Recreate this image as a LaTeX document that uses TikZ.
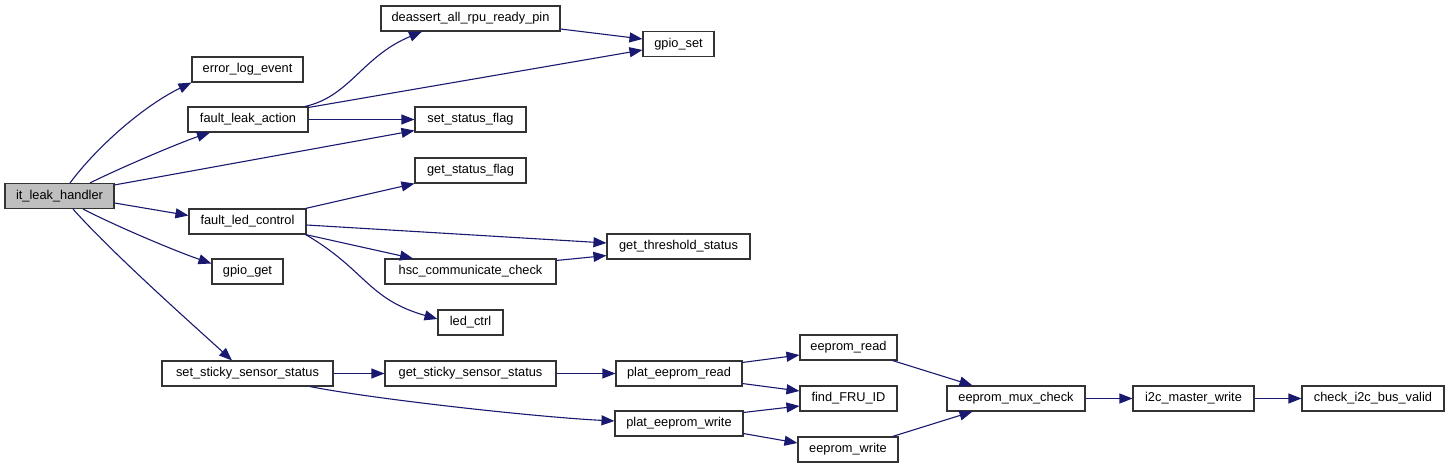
\documentclass[tikz,border=0pt]{standalone}
\usepackage{fontspec}
\setmainfont{Liberation Sans}
\usetikzlibrary{arrows.meta,calc}
\definecolor{edgec}{HTML}{191970}
\definecolor{boxc}{HTML}{333333}
\definecolor{rootfill}{HTML}{BFBFBF}
\begin{document}
\begin{tikzpicture}[x=1pt,y=-1pt,
  fn/.style={draw=boxc, line width=1.1pt, fill=white, minimum height=25pt, inner sep=0pt,
    font=\fontsize{12.8}{15}\selectfont, text=black},
  root/.style={fn, fill=rootfill},
  call/.style={draw=edgec, line width=1.1pt, -{Triangle[length=13pt,width=10pt]}}]
\useasboundingbox (0,0) rectangle (1451,468);
% nodes
\node[root, minimum width=109pt] (it) at (59.5,196) {it\_leak\_handler};
\node[fn, minimum width=111pt] (err) at (247.5,69.5) {error\_log\_event};
\node[fn, minimum width=120pt] (fla) at (248,119.5) {fault\_leak\_action};
\node[fn, minimum width=179pt] (dea) at (470.5,18.5) {deassert\_all\_rpu\_ready\_pin};
\node[fn, minimum width=71pt] (gset) at (678.5,44) {gpio\_set};
\node[fn, minimum width=111pt] (ssf) at (470.5,119.5) {set\_status\_flag};
\node[fn, minimum width=111pt] (gsf) at (470.5,170.5) {get\_status\_flag};
\node[fn, minimum width=117pt] (flc) at (247.5,221.5) {fault\_led\_control};
\node[fn, minimum width=143pt] (gts) at (678.5,246.5) {get\_threshold\_status};
\node[fn, minimum width=171pt] (hsc) at (470.5,271.5) {hsc\_communicate\_check};
\node[fn, minimum width=65pt] (led) at (470.5,322.5) {led\_ctrl};
\node[fn, minimum width=71pt] (gget) at (247.5,271.5) {gpio\_get};
\node[fn, minimum width=171pt] (sss) at (247.5,373.5) {set\_sticky\_sensor\_status};
\node[fn, minimum width=171pt] (gss) at (470.5,373.5) {get\_sticky\_sensor\_status};
\node[fn, minimum width=126pt] (per) at (679,373.5) {plat\_eeprom\_read};
\node[fn, minimum width=128pt] (pew) at (679,423.5) {plat\_eeprom\_write};
\node[fn, minimum width=97pt] (er) at (848.5,347.5) {eeprom\_read};
\node[fn, minimum width=97pt] (fru) at (848.5,398.5) {find\_FRU\_ID};
\node[fn, minimum width=100pt] (ew) at (848,449.5) {eeprom\_write};
\node[fn, minimum width=138pt] (mux) at (1016,398.5) {eeprom\_mux\_check};
\node[fn, minimum width=121pt] (i2c) at (1193.5,398.5) {i2c\_master\_write};
\node[fn, minimum width=142pt] (chk) at (1373,398.5) {check\_i2c\_bus\_valid};
% edges
\draw[call] ($(it.north)+(10.5,0)$) .. controls +(30,-40) and +(-45,22) .. (err.south west);
\draw[call] ($(it.north)+(30.5,0)$) .. controls +(30,-15) and +(-30,10) .. ($(fla.south)+(-38,0)$);
\draw[call] ($(it.north east)+(0,2)$) -- ($(ssf.south west)+(0,-2)$);
\draw[call] ($(it.east)+(0,7)$) -- ($(flc.west)+(0,-6)$);
\draw[call] ($(it.south)+(23.5,0)$) .. controls +(35,18) and +(-35,-12) .. ($(gget.west)+(0,-8)$);
\draw[call] ($(it.south)+(13.5,0)$) .. controls +(40,45) and +(-35,-32) .. ($(sss.north)+(-15.5,0)$);
\draw[call] ($(fla.north)+(57,0)$) .. controls +(45,-10) and +(-60,25) .. ($(dea.south)+(-48.5,0)$);
\draw[call] ($(fla.north east)+(0,1)$) -- ($(gset.west)+(0,6)$);
\draw[call] (fla.east) -- (ssf.west);
\draw[call] ($(dea.east)+(0,10.5)$) -- ($(gset.west)+(0,-5)$);
\draw[call] ($(flc.north east)+(-1,0)$) -- (gsf.south west);
\draw[call] ($(flc.east)+(0,3.5)$) -- ($(gts.west)+(0,-3.5)$);
\draw[call] ($(flc.south east)+(-1,0)$) -- ($(hsc.north)+(-57.5,0)$);
\draw[call] ($(flc.south east)+(-1,0)$) .. controls +(60,35) and +(-70,-20) .. ($(led.west)+(0,-3.5)$);
\draw[call] ($(hsc.north east)+(0,2)$) -- ($(gts.south west)+(0,-4)$);
\draw[call] (sss.east) -- (gss.west);
\draw[call] ($(sss.south)+(62.5,0)$) .. controls +(60,12) and +(-80,-4) .. ($(pew.west)+(0,-2.5)$);
\draw[call] (gss.east) -- (per.west);
\draw[call] ($(per.north east)+(0,2)$) -- ($(er.west)+(0,7.5)$);
\draw[call] ($(per.south east)+(0,-3)$) -- ($(fru.west)+(0,-7.5)$);
\draw[call] ($(pew.north east)+(0,2)$) -- ($(fru.west)+(0,7.5)$);
\draw[call] ($(pew.south east)+(0,-3)$) -- ($(ew.west)+(0,-6.5)$);
\draw[call] ($(er.south east)+(-5,0)$) -- ($(mux.north west)+(26,0)$);
\draw[call] ($(ew.north east)+(-6,0)$) -- ($(mux.south west)+(26,0)$);
\draw[call] (mux.east) -- (i2c.west);
\draw[call] (i2c.east) -- (chk.west);
\end{tikzpicture}
\end{document}
